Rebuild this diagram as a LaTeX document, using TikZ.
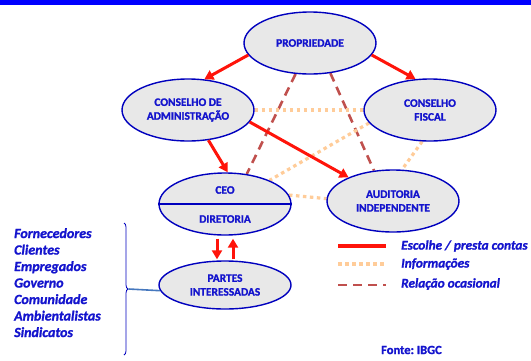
\documentclass[tikz,border=0pt]{standalone}
\usepackage{fontspec}
\setmainfont{Carlito}[BoldFeatures={FakeBold=1.3},BoldItalicFeatures={FakeBold=1.3}]
\usetikzlibrary{arrows.meta,decorations.pathreplacing,shapes.geometric,backgrounds}
\definecolor{txtblue}{RGB}{20,20,205}
\definecolor{edgeblue}{RGB}{0,0,190}
\definecolor{ellfill}{RGB}{232,232,232}
\definecolor{arrred}{RGB}{255,20,10}
\definecolor{infoorange}{RGB}{255,204,153}
\definecolor{dashbrown}{RGB}{192,80,77}
\definecolor{linkblue}{RGB}{70,120,190}
\tikzset{
  ell/.style={ellipse, draw=edgeblue, line width=1.4pt, fill=ellfill,
    minimum width=132pt, minimum height=62pt, inner sep=0pt,
    align=center, text=txtblue, font=\fontsize{11.4}{13.8}\selectfont\bfseries},
  lbl/.style={text=txtblue, font=\fontsize{11.4}{13.5}\selectfont\bfseries, inner sep=0pt},
  choose/.style={draw=arrred, line width=3pt, -{Triangle[length=9pt,width=10pt]}},
  info/.style={draw=infoorange, line width=3.2pt, dash pattern=on 3.5pt off 3.5pt},
  occas/.style={draw=dashbrown, line width=2.6pt, dash pattern=on 9pt off 6pt},
  legtxt/.style={anchor=west, text=txtblue, inner sep=0pt,
    font=\fontsize{13.3}{16}\selectfont\bfseries\itshape},
}
\frenchspacing
\begin{document}
\begin{tikzpicture}[x=1pt,y=-1pt]
\useasboundingbox (0,0) rectangle (531,360);
\fill[blue] (0,0) rectangle (531,5);

\node[ell] (prop) at (310,43) {PROPRIEDADE};
\node[ell] (ca) at (188,110) {CONSELHO DE\\ADMINISTRAÇÃO};
\node[ell] (cf) at (430,110) {CONSELHO\\FISCAL};
\node[ell] (aud) at (393,201) {AUDITORIA\\INDEPENDENTE};
\node[ell] (ceo) at (225,204) {};
\node[ell, minimum height=48pt] (partes) at (225,285) {PARTES\\INTERESSADAS};

\begin{scope}[on background layer]
\draw[occas] (prop.245) -- (ceo.54);
\draw[occas] (prop.-56) -- (aud.122);
\draw[info] (ca.east) -- (cf.west);
\draw[info] (cf.192) -- (ceo.28);
\draw[info] (ceo.8) -- (aud.178);
\draw[info] (cf.-104) -- (aud.74);
\end{scope}

\draw[edgeblue, line width=1.4pt] (ceo.west) -- (ceo.east);
\node[lbl] (ceot) at (225,190) {CEO};
\node[lbl] (dirt) at (225,219) {DIRETORIA};

\draw[choose] (prop.191) -- (ca.62);
\draw[choose] (prop.-11) -- (cf.115);
\draw[choose] (ca.-56) -- (ceo.85);
\draw[choose] (ca.-11) -- (aud.152);
\draw[choose] ([xshift=-8pt,yshift=-3pt]ceo.south) -- ([xshift=-8pt,yshift=1pt]partes.north);
\draw[choose] ([xshift=8pt,yshift=1pt]partes.north) -- ([xshift=8pt,yshift=-3pt]ceo.south);

% stakeholders list and brace
\node[anchor=north west, align=left, text=txtblue, inner sep=0pt,
  font=\fontsize{14}{16.5}\selectfont\bfseries\itshape] (list) at (14,228)
  {Fornecedores\\Clientes\\Empregados\\Governo\\Comunidade\\Ambientalistas\\Sindicatos};
\coordinate (bt1) at (124,223);
\coordinate (bt2) at (124,355);
\draw[edgeblue, line width=0.8pt, decorate, decoration={brace, amplitude=4pt}] (bt1) -- (bt2);
\coordinate (btip) at (128.5,289);
\draw[linkblue, line width=1.6pt] (btip) -- (partes.185);

% legend
\coordinate (l1a) at (338,246); \coordinate (l1b) at (386,246);
\coordinate (l2a) at (338,264); \coordinate (l2b) at (386,264);
\coordinate (l3a) at (338,285); \coordinate (l3b) at (386,285);
\draw[draw=arrred, line width=3.5pt] (l1a) -- (l1b);
\draw[info] (l2a) -- (l2b);
\draw[occas] (l3a) -- (l3b);
\node[legtxt] (t1) at (401,246) {Escolhe / presta contas};
\node[legtxt] (t2) at (401,264) {Informações};
\node[legtxt] (t3) at (401,284) {Relação ocasional};
\node[anchor=west, text=txtblue, inner sep=0pt, font=\fontsize{12.5}{15}\selectfont\bfseries] (src) at (381,350) {Fonte: IBGC};
\end{tikzpicture}
\end{document}
